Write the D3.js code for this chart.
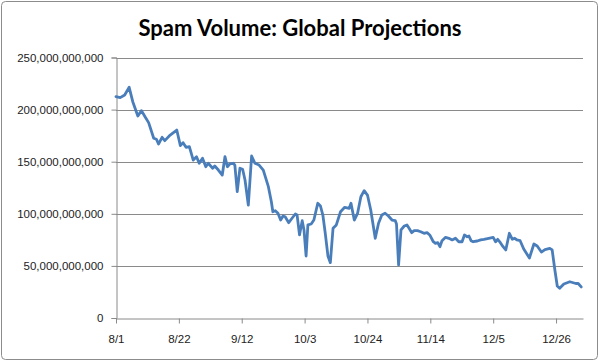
<!DOCTYPE html>
<html>
<head>
<meta charset="utf-8">
<script src="https://cdn.jsdelivr.net/npm/d3@7"></script>
<style>
  html, body { margin: 0; padding: 0; background: #fff; }
  svg { display: block; }
</style>
</head>
<body>
<svg id="chart" width="600" height="362"></svg>
<script>
// ---- data (days since Aug 1, volume in billions) ----
const days = [
  0, 1.4, 2.9, 4.4, 5.6, 7.3, 8.5, 9.8, 10.9, 12.6, 13.5, 14.2, 15.4, 16.3, 18.1, 20.3,
  21.5, 22.4, 23.4, 24.5, 25.8, 26.9, 27.8, 28.9, 30, 30.8, 32.3, 33, 34.2, 35.5,
  36.4, 37.2, 38, 39.2, 39.7, 40.5, 41.4, 42.3, 43.1, 44.2, 45.3, 46.4, 47.8, 49.2,
  50.9, 51.9, 52.4, 53.2, 54.1, 55, 55.8, 56.5, 57.7, 58.8, 59.9, 60.5, 61.3, 62.2,
  62.8, 63.5, 64.1, 65.2, 66.1, 67.4, 68.3, 69.1, 69.9, 70.8, 71.6, 72.5, 73.6, 75,
  76.4, 77.9, 78.5, 79.6, 80.7, 81.8, 82.9, 84, 85.1, 86.6, 87.7, 88.8, 89.9, 91,
  92.2, 93.3, 93.7, 94.4, 95.2, 96.3, 97.2, 97.9, 98.8, 99.6, 100.7, 101.8, 102.9,
  103.9, 104.8, 106, 106.7, 107.5, 108.2, 108.9, 110.1, 111.2, 112.3, 113.4, 114.5,
  115.6, 116.4, 117.3, 117.9, 118.6, 119.3, 120.7, 121.8, 122.9, 124.5, 126, 126.8,
  127.5, 128.4, 129.3, 130.2, 131.4, 132.4, 133.2, 133.9, 135, 136.2, 138.1, 139.6,
  140.7, 142.1, 143.3, 144.9, 145.7, 146.6, 147.4, 148.2, 149.6, 151.6, 153.6, 154.4, 155.4
];
const volumes = [
  212.4, 211.5, 214, 221.4, 207.6, 193.9, 199, 192.6, 187.5, 172.5, 171.5, 167, 173.4, 170.2, 175.6, 180.4,
  165.4, 168.3, 163.8, 164.4, 151.6, 154.8, 148.5, 153.3, 145.2, 148.5, 143.7, 145.9, 142, 137.2,
  154.8, 145.2, 147.8, 148.5, 146.8, 121.2, 143.7, 142.7, 132.4, 108.4, 155.5, 148.5, 146.8, 142,
  126, 111.6, 102, 103, 100.5, 94, 97.9, 97.2, 91.5, 95.7, 99.8, 98.8, 79.7, 93.4,
  84.5, 59.5, 89.3, 90.2, 94, 110.1, 107.5, 98.8, 81.3, 59.5, 53.1, 86.1, 89.3, 102,
  106.2, 105.3, 110.1, 94, 100.5, 116.4, 122.2, 118, 103.7, 76.5, 90.9, 98.8, 100.5, 97.9,
  94, 93.4, 90.2, 50.9, 84.5, 88.3, 89.3, 86.1, 81.9, 83.8, 83.8, 82.8, 81.3,
  81.9, 79.7, 73.2, 71.7, 72.3, 68.4, 74.2, 77.4, 76.5, 74.9, 76.5, 73.2,
  73.2, 79.7, 78, 78.7, 74.2, 73.2, 73.9, 74.9, 75.5, 76.5, 77.4, 73.2,
  75.5, 72.3, 68.4, 65.3, 81.3, 75.5, 76.5, 74.9, 74.2, 66.2, 57.6, 71,
  69.1, 63.3, 65.7, 66.9, 65.3, 46.1, 30.7, 28.5, 32.6, 34.8, 33.1, 33.1, 29.8
];
const xTickDays = [0, 21, 42, 63, 84, 105, 126, 147];
const xTickLabels = ["8/1", "8/22", "9/12", "10/3", "10/24", "11/14", "12/5", "12/26"];
const yTickValues = [0, 50, 100, 150, 200, 250];
const title = "Spam Volume: Global Projections";

// ---- layout ----
const svg = d3.select("#chart");
const plotLeft = 116, plotRight = 583, plotTop = 57.5, plotBottom = 318;

svg.append("rect")
  .attr("x", 1.5).attr("y", 1.5).attr("width", 596).attr("height", 358)
  .attr("rx", 4).attr("fill", "#fff").attr("stroke", "#8c8c8c").attr("stroke-width", 1);

svg.append("text")
  .attr("x", 300).attr("y", 36)
  .attr("text-anchor", "middle")
  .attr("font-family", "Lato, 'Liberation Sans', sans-serif")
  .attr("font-weight", "bold")
  .attr("font-size", 22)
  .attr("fill", "#000")
  .text(title);

const x = d3.scaleLinear().domain([0, 156]).range([plotLeft, plotRight]);
const y = d3.scaleLinear().domain([0, 250]).range([plotBottom, plotTop]);

// gridlines
svg.append("g")
  .selectAll("line")
  .data(yTickValues.filter(v => v > 0))
  .join("line")
  .attr("x1", plotLeft).attr("x2", plotRight)
  .attr("y1", d => Math.round(y(d)) + 0.5).attr("y2", d => Math.round(y(d)) + 0.5)
  .attr("stroke", "#8a8a8a").attr("stroke-width", 1);

// y axis
const yAxis = svg.append("g")
  .attr("transform", `translate(${plotLeft + 0.5},0)`)
  .call(d3.axisLeft(y).tickValues(yTickValues)
    .tickFormat(d => d3.format(",")(d * 1e9))
    .tickSize(5).tickPadding(8));
yAxis.select(".domain").attr("stroke", "#8a8a8a");
yAxis.selectAll(".tick line").attr("stroke", "#8a8a8a");
yAxis.selectAll(".tick text")
  .attr("font-family", "'Liberation Sans', Arial, sans-serif")
  .attr("font-size", 11.5).attr("fill", "#222");

// x axis
const xAxis = svg.append("g")
  .attr("transform", `translate(0,${Math.round(plotBottom) + 0.5})`)
  .call(d3.axisBottom(x).tickValues(xTickDays)
    .tickFormat((d, i) => xTickLabels[i])
    .tickSize(5).tickSizeOuter(0).tickPadding(11));
xAxis.select(".domain").attr("stroke", "#8a8a8a");
xAxis.selectAll(".tick line").attr("stroke", "#8a8a8a");
xAxis.selectAll(".tick text")
  .attr("font-family", "'Liberation Sans', Arial, sans-serif")
  .attr("font-size", 11.5).attr("fill", "#222");

// line
const pts = days.map((d, i) => ({ d, v: volumes[i] }));
svg.append("path")
  .datum(pts)
  .attr("fill", "none")
  .attr("stroke", "#4a7ebb")
  .attr("stroke-width", 2.8)
  .attr("stroke-linejoin", "round")
  .attr("stroke-linecap", "round")
  .attr("d", d3.line().x(p => x(p.d)).y(p => y(p.v)));
</script>
</body>
</html>
